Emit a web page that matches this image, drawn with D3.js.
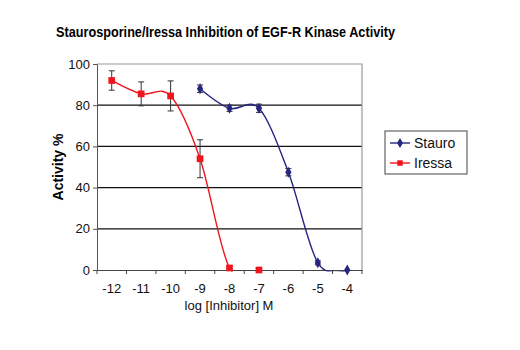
<!DOCTYPE html>
<html>
<head>
<meta charset="utf-8">
<script src="https://cdn.jsdelivr.net/npm/d3@7"></script>
<style>
  body { margin: 0; background: #fff; }
  text { font-family: "Liberation Sans", Arial, sans-serif; }
</style>
</head>
<body>
<svg id="chart" width="520" height="350"></svg>
<script>
// data
const doses = ['-12', '-11', '-10', '-9', '-8', '-7', '-6', '-5', '-4']
const yTicks = [0, 20, 40, 60, 80, 100]
const stauroDoses = ['-9', '-8', '-7', '-6', '-5', '-4']
const stauroVals = [88, 78.5, 78.5, 47.5, 3.5, 0]
const stauroErr = [1.8, 1.5, 2, 1.8, 1, 0]
const iressaDoses = ['-12', '-11', '-10', '-9', '-8', '-7']
const iressaVals = [92, 85.5, 84.5, 54, 1, 0]
const iressaErr = [4.7, 5.8, 7.3, 9.2, 0.4, 0]

const plotLeft = 97, plotRight = 362, plotTop = 64, plotBottom = 270
const blue = '#262680'
const red = '#f0141c'

const svg = d3.select('#chart')

const x = d3.scaleBand()
            .domain(doses)
            .range([plotLeft, plotRight])
            .padding(0)
const cx = d => x(d) + x.bandwidth()/2

const y = d3.scaleLinear()
            .domain([0, 100])
            .range([plotBottom, plotTop])

// title
svg.append('text')
   .text('Staurosporine/Iressa Inhibition of EGF-R Kinase Activity')
   .attr('x', 56)
   .attr('y', 37)
   .attr('textLength', 339)
   .attr('lengthAdjust', 'spacingAndGlyphs')
   .style('font-family', '"Liberation Sans Narrow", "Liberation Sans", sans-serif')
   .style('font-weight', 'bold')
   .style('font-size', 15)

// grid lines
svg.append('g')
   .selectAll('line')
   .data(yTicks.filter(v => v > 0 && v < 100))
   .enter().append('line')
   .attr('x1', plotLeft).attr('x2', plotRight)
   .attr('y1', d => y(d)).attr('y2', d => y(d))
   .style('stroke', '#111')
   .style('stroke-width', 1.2)

// top and right border
svg.append('path')
   .attr('d', `M${plotLeft},${plotTop}H${plotRight}V${plotBottom}`)
   .style('fill', 'none')
   .style('stroke', '#999')
   .style('stroke-width', 1.2)

// y axis
let yAxis = svg.append('g')
               .attr('transform', `translate(${plotLeft},0)`)
               .call(d3.axisLeft(y).tickValues(yTicks).tickSize(4).tickPadding(3))
yAxis.select('.domain').style('stroke', '#555')
yAxis.selectAll('.tick line').style('stroke', '#555')
yAxis.selectAll('.tick text')
     .style('font-size', 13)
     .style('fill', '#111')

// x axis, labels centred in the categories, ticks between them
let xAxis = svg.append('g')
               .attr('transform', `translate(0,${plotBottom})`)
               .call(d3.axisBottom(x).tickSize(0).tickPadding(14))
xAxis.select('.domain').style('stroke', '#444').style('stroke-width', 1.2)
xAxis.selectAll('.tick text')
     .style('font-size', 13)
     .style('fill', '#111')

xAxis.selectAll('.boundary')
     .data(doses.concat(['end']))
     .enter().append('line')
     .attr('class', 'boundary')
     .attr('x1', d => d == 'end' ? plotRight : x(d))
     .attr('x2', d => d == 'end' ? plotRight : x(d))
     .attr('y1', 0).attr('y2', 4)
     .style('stroke', '#444')

// axis titles
svg.append('text')
   .text('Activity %')
   .attr('transform', `translate(63, ${(plotTop+plotBottom)/2}) rotate(-90)`)
   .style('text-anchor', 'middle')
   .style('font-family', '"Liberation Sans Narrow", "Liberation Sans", sans-serif')
   .style('font-weight', 'bold')
   .style('font-size', 14)

svg.append('text')
   .text('log [Inhibitor] M')
   .attr('x', 229)
   .attr('y', 310)
   .style('text-anchor', 'middle')
   .style('font-size', 13)
   .style('fill', '#111')

// clip so the smoothed curves don't go under 0
svg.append('clipPath')
   .attr('id', 'plotClip')
   .append('rect')
   .attr('x', plotLeft).attr('y', plotTop - 5)
   .attr('width', plotRight - plotLeft).attr('height', plotBottom - plotTop + 6.5)

let lineGen = d3.line()
                .x(d => cx(d[0]))
                .y(d => y(d[1]))
                .curve(d3.curveCatmullRom.alpha(0))

let drawSeries = (names, vals, errs, color, shape, size) => {
  let pts = names.map((d, i) => [d, vals[i], errs[i]])

  svg.append('path')
     .datum(pts)
     .attr('d', lineGen)
     .attr('clip-path', 'url(#plotClip)')
     .style('fill', 'none')
     .style('stroke', color)
     .style('stroke-width', 1.4)

  let bars = svg.append('g')
  pts.filter(d => d[2] > 0.5).forEach(d => {
    let px = cx(d[0])
    let y1 = y(d[1] + d[2]), y2 = y(d[1] - d[2])
    bars.append('path')
        .attr('d', `M${px},${y1}V${y2}M${px-3},${y1}H${px+3}M${px-3},${y2}H${px+3}`)
        .style('fill', 'none')
        .style('stroke', '#333')
        .style('stroke-width', 1)
  })

  svg.append('g')
     .selectAll('path')
     .data(pts)
     .enter().append('path')
     .attr('d', d3.symbol().type(shape).size(size))
     .attr('transform', d => `translate(${cx(d[0])},${y(d[1])})`)
     .style('fill', color)
}

drawSeries(stauroDoses, stauroVals, stauroErr, blue, d3.symbolDiamond, 34)
drawSeries(iressaDoses, iressaVals, iressaErr, red, d3.symbolSquare, 45)

// legend
let legend = svg.append('g').attr('transform', 'translate(385,131)')
legend.append('rect')
      .attr('width', 82).attr('height', 43)
      .style('fill', 'white')
      .style('stroke', '#444')
      .style('stroke-width', 1)

let legendItems = [['Stauro', blue, d3.symbolDiamond, 30], ['Iressa', red, d3.symbolSquare, 30]]
legendItems.forEach((item, i) => {
  let g = legend.append('g').attr('transform', `translate(0, ${12 + i*20})`)
  g.append('line')
   .attr('x1', 5).attr('x2', 25)
   .style('stroke', item[1])
   .style('stroke-width', 1.4)
  g.append('path')
   .attr('d', d3.symbol().type(item[2]).size(item[3]))
   .attr('transform', 'translate(15,0)')
   .style('fill', item[1])
  g.append('text')
   .text(item[0])
   .attr('x', 29)
   .attr('dy', '0.35em')
   .style('font-size', 14)
   .style('fill', '#111')
})
</script>
</body>
</html>
